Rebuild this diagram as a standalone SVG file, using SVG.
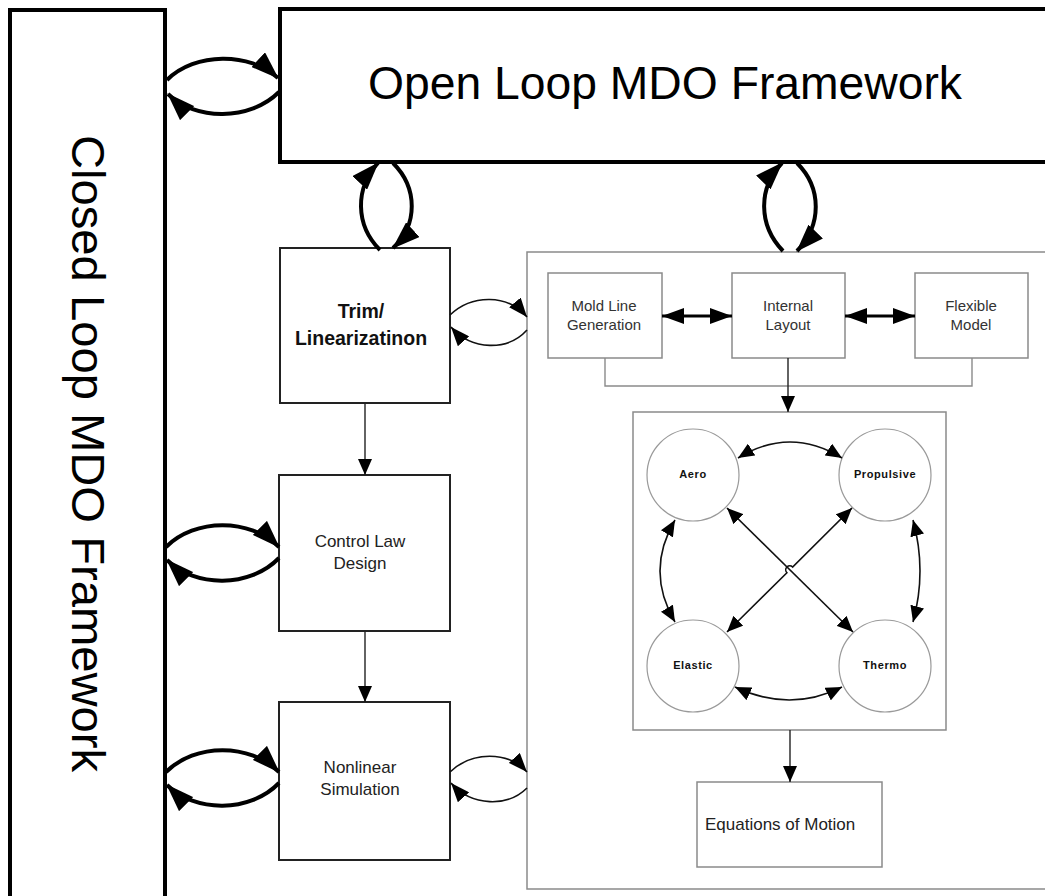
<svg xmlns="http://www.w3.org/2000/svg" width="1045" height="896" viewBox="0 0 1045 896">
  <style>
    .frame { fill: #fff; stroke: #000; stroke-width: 4; }
    .block { fill: #fff; stroke: #222; stroke-width: 2; }
    .panel { fill: #fff; stroke: #8a8a8a; stroke-width: 1.5; }
    .orb { fill: #fff; stroke: #9a9a9a; stroke-width: 1.2; }
    .heavy { fill: none; stroke: #000; stroke-width: 4; }
    .light { fill: none; stroke: #111; stroke-width: 1.6; }
    .thin { fill: none; stroke: #222; stroke-width: 1.4; }
    .bus { fill: none; stroke: #8a8a8a; stroke-width: 1.4; }
    .dbl { fill: none; stroke: #000; stroke-width: 3; }
    text { font-family: "Liberation Sans", Arial, sans-serif; fill: #111; }
    .title { font-size: 46px; fill: #000; }
    .lbl { font-size: 17px; text-anchor: middle; fill: #222; }
    .lblb { font-size: 19.5px; font-weight: bold; text-anchor: middle; }
    .sub { font-size: 15px; text-anchor: middle; fill: #333; }
    .orbl { font-size: 11px; font-weight: bold; text-anchor: middle; letter-spacing: 0.6px; }
  </style>
  <defs>
    <marker id="hBig" viewBox="0 0 28 20" refX="27" refY="10" markerWidth="28" markerHeight="20" markerUnits="userSpaceOnUse" orient="auto-start-reverse">
      <path d="M0,0 L28,10 L0,20 z" fill="#000"/>
    </marker>
    <marker id="hMid" viewBox="0 0 19 15" refX="19" refY="7.5" markerWidth="19" markerHeight="15" markerUnits="userSpaceOnUse" orient="auto-start-reverse">
      <path d="M0,0 L19,7.5 L0,15 z" fill="#000"/>
    </marker>
    <marker id="hDbl" viewBox="0 0 22 16" refX="22" refY="8" markerWidth="22" markerHeight="16" markerUnits="userSpaceOnUse" orient="auto-start-reverse">
      <path d="M0,0 L22,8 L0,16 z" fill="#000"/>
    </marker>
    <marker id="hSm" viewBox="0 0 16 14" refX="16" refY="7" markerWidth="16" markerHeight="14" markerUnits="userSpaceOnUse" orient="auto-start-reverse">
      <path d="M0,0 L16,7 L0,14 z" fill="#000"/>
    </marker>
  </defs>

  <!-- outer frameworks -->
  <g id="closed-loop">
    <rect class="frame" x="10" y="10" width="155" height="900"/>
    <text class="title" transform="translate(72,135) rotate(90)" textLength="637" lengthAdjust="spacingAndGlyphs">Closed Loop MDO Framework</text>
  </g>
  <g id="open-loop">
    <rect class="frame" x="280" y="9" width="800" height="153"/>
    <text class="title" x="368" y="99" textLength="594" lengthAdjust="spacingAndGlyphs">Open Loop MDO Framework</text>
  </g>

  <!-- left column blocks -->
  <g id="trim">
    <rect class="block" x="280" y="248" width="170" height="155"/>
    <text class="lblb" x="361" y="318">Trim/</text>
    <text class="lblb" x="361" y="345">Linearizatinon</text>
  </g>
  <g id="control-law">
    <rect class="block" x="279" y="475" width="171" height="156"/>
    <text class="lbl" x="360" y="547">Control Law</text>
    <text class="lbl" x="360" y="569">Design</text>
  </g>
  <g id="nonlinear-sim">
    <rect class="block" x="279" y="702" width="171" height="158"/>
    <text class="lbl" x="360" y="773">Nonlinear</text>
    <text class="lbl" x="360" y="795">Simulation</text>
  </g>

  <!-- vehicle model panel -->
  <g id="vehicle-panel">
    <rect class="panel" x="527" y="252" width="560" height="637"/>
  </g>
  <g id="mold-line">
    <rect class="panel" x="548" y="273" width="114" height="85"/>
    <text class="sub" x="604" y="311">Mold Line</text>
    <text class="sub" x="604" y="330">Generation</text>
  </g>
  <g id="internal-layout">
    <rect class="panel" x="732" y="273" width="113" height="85"/>
    <text class="sub" x="788" y="311">Internal</text>
    <text class="sub" x="788" y="330">Layout</text>
  </g>
  <g id="flexible-model">
    <rect class="panel" x="915" y="273" width="113" height="85"/>
    <text class="sub" x="971" y="311">Flexible</text>
    <text class="sub" x="971" y="330">Model</text>
  </g>
  <g id="disciplines">
    <rect class="panel" x="633" y="412" width="313" height="318"/>
  </g>
  <g id="aero">
    <circle class="orb" cx="693" cy="475" r="46"/>
    <text class="orbl" x="693" y="478">Aero</text>
  </g>
  <g id="propulsive">
    <circle class="orb" cx="885" cy="475" r="46"/>
    <text class="orbl" x="885" y="478">Propulsive</text>
  </g>
  <g id="elastic">
    <circle class="orb" cx="693" cy="666" r="46"/>
    <text class="orbl" x="693" y="669">Elastic</text>
  </g>
  <g id="thermo">
    <circle class="orb" cx="885" cy="666" r="46"/>
    <text class="orbl" x="885" y="669">Thermo</text>
  </g>
  <g id="equations-of-motion">
    <rect class="panel" x="697" y="782" width="185" height="85"/>
    <text x="705" y="830" style="font-size:17px; fill:#222;">Equations of Motion</text>
  </g>

  <!-- connectors -->
  <g id="connectors">
    <!-- closed loop <-> open loop -->
    <path class="heavy" d="M167,80 C195,52 250,52 278,78" marker-end="url(#hBig)"/>
    <path class="heavy" d="M279,92 C250,121 195,121 168,94" marker-end="url(#hBig)"/>
    <!-- closed loop <-> control law -->
    <path class="heavy" d="M166,547 C195,518 250,518 279,547" marker-end="url(#hBig)"/>
    <path class="heavy" d="M279,558 C250,588 195,588 167,560" marker-end="url(#hBig)"/>
    <!-- closed loop <-> nonlinear simulation -->
    <path class="heavy" d="M166,772 C195,743 250,743 279,772" marker-end="url(#hBig)"/>
    <path class="heavy" d="M279,783 C250,813 195,813 167,785" marker-end="url(#hBig)"/>
    <!-- open loop <-> trim -->
    <path class="heavy" d="M380,250 C355,225 355,188 378,163" marker-end="url(#hBig)"/>
    <path class="heavy" d="M393,163 C418,188 418,225 393,248" marker-end="url(#hBig)"/>
    <!-- open loop <-> vehicle panel -->
    <path class="heavy" d="M783,251 C758,225 758,188 782,163" marker-end="url(#hBig)"/>
    <path class="heavy" d="M797,163 C822,188 822,225 797,251" marker-end="url(#hBig)"/>
    <!-- trim <-> vehicle panel -->
    <path class="light" d="M450,315 C472,294 508,294 527,317" marker-end="url(#hMid)"/>
    <path class="light" d="M527,330 C508,351 472,351 451,327" marker-end="url(#hMid)"/>
    <!-- nonlinear simulation <-> vehicle panel -->
    <path class="light" d="M450,772 C472,751 508,751 527,772" marker-end="url(#hMid)"/>
    <path class="light" d="M527,788 C508,807 472,807 451,783" marker-end="url(#hMid)"/>
    <!-- left column flow -->
    <path class="thin" d="M365,403 V475" marker-end="url(#hSm)"/>
    <path class="thin" d="M365,631 V702" marker-end="url(#hSm)"/>
    <!-- geometry exchanges -->
    <path class="dbl" d="M662,316 H732" marker-start="url(#hDbl)" marker-end="url(#hDbl)"/>
    <path class="dbl" d="M845,316 H915" marker-start="url(#hDbl)" marker-end="url(#hDbl)"/>
    <!-- geometry bus into disciplines -->
    <path class="bus" d="M605,358 V386 H972 V358"/>
    <path class="thin" d="M788,358 V412" marker-end="url(#hSm)"/>
    <!-- discipline couplings -->
    <path class="light" d="M738,458 Q790,426 842,458" marker-start="url(#hSm)" marker-end="url(#hSm)"/>
    <path class="light" d="M735,687 Q790,713 842,687" marker-start="url(#hSm)" marker-end="url(#hSm)"/>
    <path class="light" d="M675,520 Q645,571 675,622" marker-start="url(#hSm)" marker-end="url(#hSm)"/>
    <path class="light" d="M913,520 Q927,571 913,622" marker-start="url(#hSm)" marker-end="url(#hSm)"/>
    <path class="light" d="M727,508 L853,632" marker-start="url(#hSm)" marker-end="url(#hSm)"/>
    <path class="light" d="M852,508 L792.6,567 A4,4 0 0 0 786.9,572.7 L727,632" marker-start="url(#hSm)" marker-end="url(#hSm)"/>
    <!-- disciplines to equations of motion -->
    <path class="thin" d="M790,730 V782" marker-end="url(#hSm)"/>
  </g>
</svg>
